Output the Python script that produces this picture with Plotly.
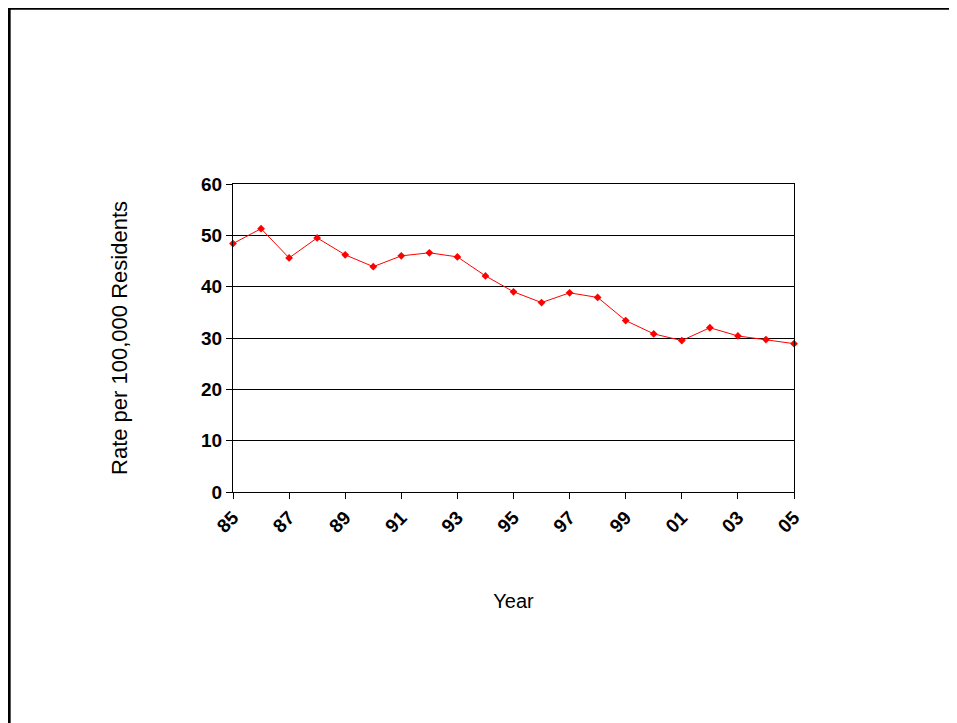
import plotly.graph_objects as go

years = list(range(1985, 2006))
rates = [48.4, 51.3, 45.6, 49.5, 46.2, 43.9, 46.0, 46.6, 45.8, 42.1, 39.0,
         36.9, 38.8, 37.9, 33.4, 30.8, 29.5, 32.0, 30.4, 29.7, 28.9]
tick_years = list(range(1985, 2006, 2))
tick_labels = [f"{y % 100:02d}" for y in tick_years]

fig = go.Figure()
fig.add_trace(go.Scatter(
    x=years, y=rates, mode="lines+markers",
    line=dict(color="#ff0000", width=1),
    marker=dict(symbol="diamond", size=6, color="#ff0000"),
    cliponaxis=False,
))

fig.update_layout(
    width=957, height=723,
    margin=dict(l=225, r=171, t=176, b=239),
    paper_bgcolor="white", plot_bgcolor="white",
    showlegend=False,
    font=dict(family="Liberation Sans, Arial", color="black"),
    shapes=[dict(type="rect", xref="paper", yref="paper",
                 x0=-0.399, x1=1.31, y0=-0.8, y1=1.571,
                 line=dict(color="black", width=3))],
)
fig.update_xaxes(
    range=[1985, 2005], tickvals=tick_years, ticktext=tick_labels,
    tickangle=-45, tickfont=dict(size=19, weight="bold"),
    ticks="outside", ticklen=6, tickcolor="black",
    showline=True, linecolor="black", mirror=True, showgrid=False,
    title=dict(text="Year", font=dict(size=20), standoff=58),
)
fig.update_yaxes(
    range=[0, 60], dtick=10, tickfont=dict(size=19, weight="bold"),
    ticks="outside", ticklen=6, tickcolor="black",
    showline=True, linecolor="black", mirror=True,
    showgrid=True, gridcolor="black", gridwidth=1, zeroline=False,
    title=dict(text="Rate per 100,000 Residents", font=dict(size=22), standoff=67),
)

fig.write_html("out.html")
